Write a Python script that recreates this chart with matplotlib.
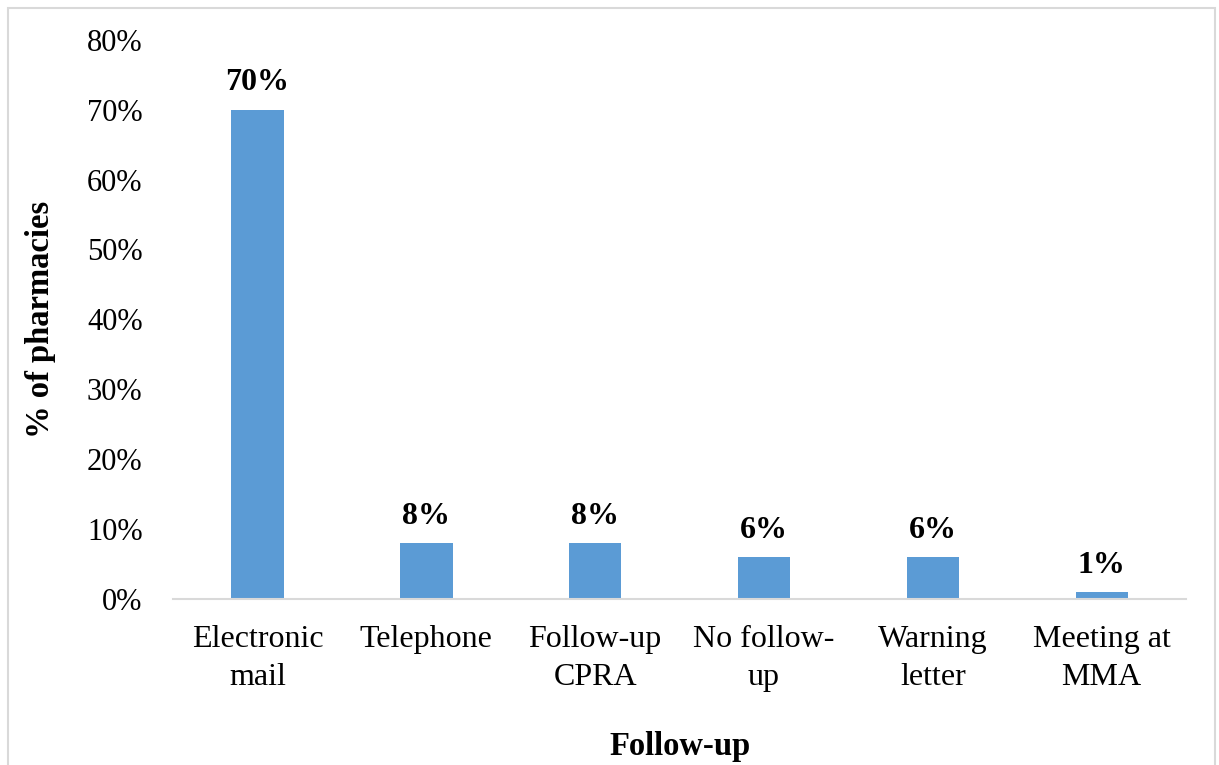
import matplotlib
matplotlib.use("Agg")

import matplotlib.pyplot as plt
from matplotlib.patches import Rectangle
from matplotlib.ticker import PercentFormatter

# follow-up method reported by pharmacies (% of pharmacies)
categories = ["Electronic\nmail", "Telephone", "Follow-up\nCPRA",
              "No follow-\nup", "Warning\nletter", "Meeting at\nMMA"]
shares = [70, 8, 8, 6, 6, 1]
yticks = [0, 10, 20, 30, 40, 50, 60, 70, 80]

BAR = "#5B9BD5"
GRID = "#D9D9D9"

plt.rcParams["font.family"] = ["Liberation Serif", "DejaVu Serif"]

fig = plt.figure(figsize=(12.19, 7.65), dpi=100)
ax = fig.add_axes([0.142, 0.217, 0.831, 0.731])

x = range(len(categories))
ax.bar(x, shares, width=0.31, color=BAR, zorder=2)

for xi, v in zip(x, shares):
    ax.annotate(f"{v}%", (xi, v), xytext=(0, 9), textcoords="offset points",
                ha="center", va="bottom", fontsize=23, fontweight="bold")

ax.set_xlim(-0.5, len(categories) - 0.5)
ax.set_ylim(0, 80)
ax.set_yticks(yticks)
ax.yaxis.set_major_formatter(PercentFormatter(decimals=0))
ax.set_xticks(list(x))
ax.set_xticklabels(categories, fontsize=23, linespacing=1.38)
ax.tick_params(axis="y", length=0, pad=22, labelsize=22)
ax.tick_params(axis="x", length=0, pad=19)

for side in ("top", "right", "left"):
    ax.spines[side].set_visible(False)
ax.spines["bottom"].set_color(GRID)
ax.spines["bottom"].set_linewidth(1.5)

ax.set_ylabel("% of pharmacies", fontsize=23.5, fontweight="bold", labelpad=22)
fig.text(0.5575, 1 - 747 / 765, "Follow-up", ha="center", va="center",
         fontsize=23.5, fontweight="bold")

# light frame round the chart area, open at the bottom edge
fig.patches.append(Rectangle((8 / 1219, -0.05), 1207 / 1219, 1.05 - 8 / 765,
                             transform=fig.transFigure, fill=False,
                             edgecolor=GRID, linewidth=1.5))

fig.savefig("out.png", dpi=100)
